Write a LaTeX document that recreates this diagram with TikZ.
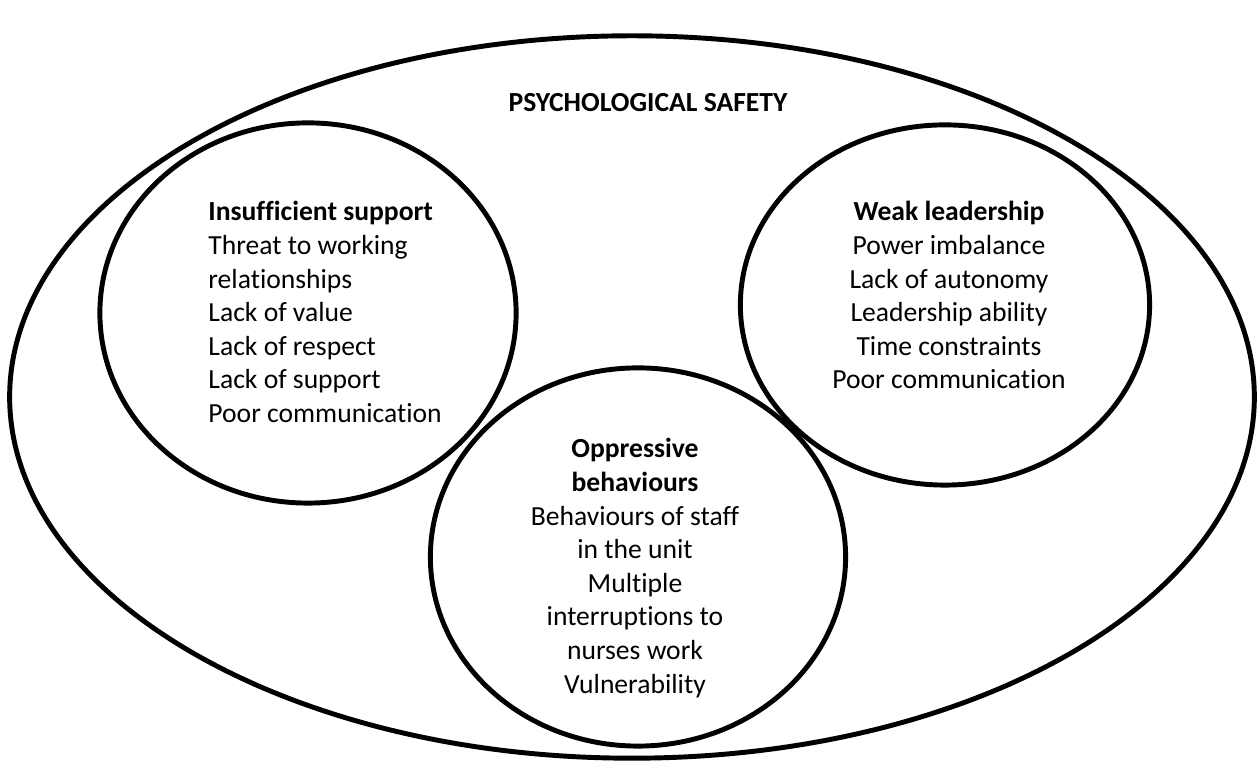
\documentclass[tikz,border=0pt]{standalone}
\usepackage{fontspec}
\setmainfont{Carlito}[Ligatures=NoCommon]
\usetikzlibrary{shapes.geometric, positioning}

\begin{document}
\begin{tikzpicture}[x=0.01cm, y=-0.01cm, line width=1.4pt,
  ring/.style={draw, ellipse, inner sep=0pt},
  txt/.style={inner sep=0pt, font=\fontsize{7.85}{9.56}\selectfont}]
\useasboundingbox (0,0) rectangle (1259,765);
% outer area and the three themes
\node[ring, minimum width=12.44cm, minimum height=7.22cm] (safety) at (632,397) {};
\node[ring, minimum width=4.16cm, minimum height=3.80cm] (support) at (308,313) {};
\node[ring, minimum width=4.09cm, minimum height=3.60cm] (leader) at (945,305) {};
\node[ring, minimum width=4.15cm, minimum height=3.78cm] (oppress) at (638,557) {};
\node[txt, font=\fontsize{7.85}{9.56}\selectfont\bfseries] (title) at (648,103) {PSYCHOLOGICAL SAFETY};
\node[txt, align=left, anchor=north west] (supporttxt) at (206,199)
  {\textbf{Insufficient support}\\Threat to working\\relationships\\Lack of value\\Lack of respect\\Lack of support\\Poor communication};
\node[txt, align=center, anchor=north] (leadertxt) at (949,199)
  {\textbf{Weak leadership}\\Power imbalance\\Lack of autonomy\\Leadership ability\\Time constraints\\Poor communication};
\node[txt, align=center, anchor=north] (oppresstxt) at (635,436)
  {\textbf{Oppressive}\\\textbf{behaviours}\\Behaviours of staff\\in the unit\\Multiple\\interruptions to\\nurses work\\Vulnerability};
\end{tikzpicture}
\end{document}
